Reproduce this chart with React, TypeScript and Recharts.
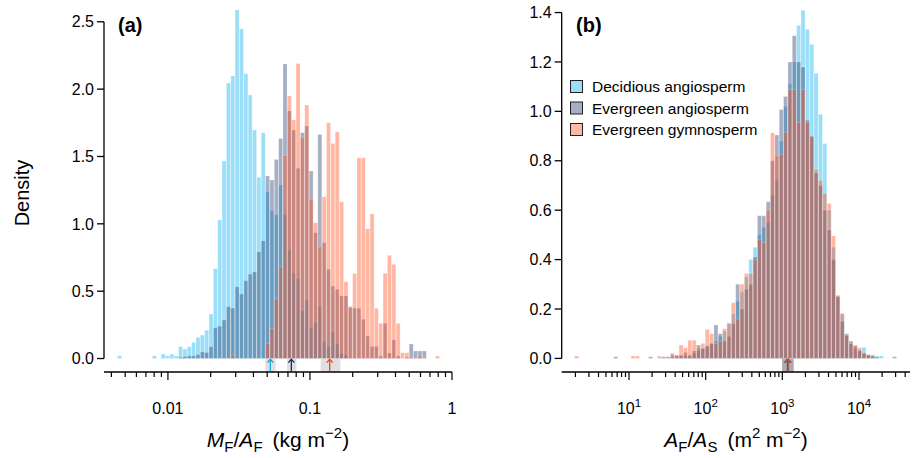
import React from 'react';
import {
  ComposedChart,
  Bar,
  XAxis,
  YAxis,
  ReferenceArea,
  ReferenceDot,
  ReferenceLine,
} from 'recharts';

const FONT = '"Liberation Sans", Arial, Helvetica, sans-serif';

const SERIES = ['Decidious angiosperm', 'Evergreen angiosperm', 'Evergreen gymnosperm'];
const KEYS = ['dec', 'eva', 'evg'];
const FILLS = ['#00b0f0', '#1f3468', '#ff4a1a'];
const ARROW_COLORS = ['#14a9e3', '#1d2d5c', '#f0461c'];

// panel (a): histogram bins on log10(MF/AF)
const A_BIN_START = -2.354;
const A_BIN_WIDTH = 0.03064;
const A_DEC = [
  0.02, 0, 0, 0, 0, 0, 0, 0, 0.02, 0, 0.033, 0.02, 0.033, 0.02, 0.088, 0.07, 0.088, 0.12, 0.157, 0.174,
  0.21, 0.33, 0.667, 1.03, 1.466, 2.045, 2.097, 2.587, 2.446, 2.115, 1.956, 1.696, 1.345, 1.677, 1.236, 1.097,
  1.065, 1.288, 1.066, 0.805, 0.632, 0.594, 0.355, 0.434, 0.229, 0.266, 0.385, 0.125, 0.088, 0.194, 0.108,
  0.038, 0.026, 0, 0, 0, 0, 0, 0, 0, 0, 0, 0, 0, 0, 0, 0, 0, 0, 0, 0, 0, 0, 0,
];
const A_EVA = [
  0, 0, 0, 0, 0, 0, 0, 0, 0, 0, 0, 0, 0, 0, 0.01, 0.015, 0.02, 0.02, 0.03, 0.05, 0.045, 0.088, 0.229, 0.241,
  0.286, 0.385, 0.375, 0.533, 0.479, 0.578, 0.627, 0.644, 0.793, 0.875, 1.355, 1.325, 1.477, 1.633, 2.186,
  1.837, 1.696, 1.412, 1.677, 1.726, 1.392, 0.934, 1.664, 0.86, 0.662, 0.538, 0.514, 0.464, 0.464, 0.385,
  0.373, 0.373, 0.291, 0.167, 0.088, 0.09, 0.02, 0.261, 0.04, 0.137, 0.02, 0, 0.01, 0.108, 0.056, 0.056,
  0.056, 0, 0, 0,
];
const A_EVG = [
  0, 0, 0, 0, 0, 0, 0, 0, 0, 0, 0, 0, 0, 0, 0, 0, 0, 0, 0, 0, 0, 0, 0, 0, 0, 0, 0.025, 0, 0, 0, 0, 0, 0, 0,
  0.113, 0.224, 0.442, 0.682, 1.508, 1.949, 1.771, 2.191, 1.64, 1.882, 1.182, 1.008, 0.83, 1.201, 1.751,
  1.597, 1.684, 1.164, 0.57, 0.377, 0.632, 1.491, 1.491, 0.964, 1.073, 0.373, 0.261, 0.632, 0.766, 0.699,
  0.261, 0.043, 0.043, 0.01, 0, 0.02, 0, 0, 0, 0.019,
];
const A_MEANS = [-1.279, -1.131, -0.861];
const A_CI = [[-1.314, -1.242], [-1.162, -1.096], [-0.925, -0.786]];
const A_DOMAIN = [-2.45, 0];
const A_YDOMAIN = [-0.1, 2.6];
const A_YTICKS = [0, 0.5, 1, 1.5, 2, 2.5];
const A_TICK_VALUES = [
  0.004, 0.005, 0.006, 0.007, 0.008, 0.009, 0.01, 0.02, 0.03, 0.04, 0.05, 0.06, 0.07, 0.08, 0.09, 0.1,
  0.2, 0.3, 0.4, 0.5, 0.6, 0.7, 0.8, 0.9, 1,
];
const A_MAJOR_VALUES = [0.01, 0.1, 1];
const A_MAJOR_LABELS = ['0.01', '0.1', '1'];

// panel (b): histogram bins on log10(AF/AS)
const B_BIN_START = 0.29;
const B_BIN_WIDTH = 0.0568;
const B_DEC = [
  0, 0, 0, 0, 0, 0, 0, 0, 0, 0, 0, 0, 0, 0, 0, 0, 0, 0, 0, 0, 0, 0, 0, 0.005, 0.01, 0.01, 0.015, 0.02, 0.03,
  0.04, 0.05, 0.06, 0.07, 0.09, 0.11, 0.14, 0.18, 0.23, 0.27, 0.33, 0.4, 0.45, 0.5, 0.53, 0.55, 0.66, 0.72,
  0.88, 1.02, 1.11, 1.2, 1.348, 1.409, 1.332, 1.271, 1.154, 0.988, 0.87, 0.6, 0.45, 0.25, 0.18, 0.09, 0.06,
  0.04, 0.035, 0.045, 0.015, 0.015, 0.01, 0.01, 0, 0, 0,
];
const B_EVA = [
  0, 0, 0, 0, 0, 0, 0, 0, 0, 0.007, 0, 0, 0, 0, 0, 0, 0, 0.007, 0, 0, 0.007, 0.007, 0.013, 0.013, 0.013,
  0.024, 0.011, 0.03, 0.054, 0.04, 0.05, 0.06, 0.135, 0.1, 0.07, 0.09, 0.14, 0.3, 0.2, 0.28, 0.3, 0.41,
  0.577, 0.577, 0.634, 0.8, 0.904, 1.008, 1.06, 1.2, 1.306, 1.2, 1.18, 0.964, 0.9, 0.75, 0.7, 0.6, 0.52, 0.4,
  0.25, 0.15, 0.1, 0.07, 0.05, 0.03, 0.02, 0.015, 0.01, 0.005, 0, 0, 0, 0.007,
];
const B_EVG = [
  0.01, 0, 0, 0, 0, 0, 0, 0, 0, 0, 0, 0, 0, 0.01, 0.01, 0, 0, 0, 0, 0.01, 0, 0, 0.022, 0.013, 0.054, 0.043,
  0.074, 0.074, 0.043, 0.06, 0.118, 0.1, 0.06, 0.07, 0.12, 0.143, 0.225, 0.16, 0.3, 0.344, 0.344, 0.4, 0.48,
  0.47, 0.6, 0.913, 0.82, 0.826, 0.914, 1.089, 1.089, 0.956, 1.089, 0.956, 0.898, 0.765, 0.72, 0.668, 0.627,
  0.495, 0.256, 0.182, 0.094, 0.06, 0.054, 0.043, 0.023, 0.013, 0.01, 0, 0, 0, 0, 0,
];
const B_MEANS = [3.08, 3.068, 3.074];
const B_CI = [[2.996, 3.148], [2.996, 3.148], [2.996, 3.148]];
const B_DOMAIN = [0.122, 4.665];
const B_YDOMAIN = [-0.055, 1.42];
const B_YTICKS = [0, 0.2, 0.4, 0.6, 0.8, 1, 1.2, 1.4];
const B_TICK_VALUES = [
  2, 3, 4, 5, 6, 7, 8, 9, 10, 20, 30, 40, 50, 60, 70, 80, 90, 100, 200, 300, 400, 500, 600, 700, 800, 900,
  1000, 2000, 3000, 4000, 5000, 6000, 7000, 8000, 9000, 10000, 20000, 30000, 40000,
];
const B_MAJOR_VALUES = [10, 100, 1000, 10000];
const B_MAJOR_EXP = ['1', '2', '3', '4'];

const buildRows = (start: number, width: number, dec: number[], eva: number[], evg: number[]) =>
  dec.map((d, i) => ({ x: start + (i + 0.5) * width, dec: d, eva: eva[i], evg: evg[i] }));

const rowsA = buildRows(A_BIN_START, A_BIN_WIDTH, A_DEC, A_EVA, A_EVG);
const rowsB = buildRows(B_BIN_START, B_BIN_WIDTH, B_DEC, B_EVA, B_EVG);

const isMajor = (v: number, majors: number[]) => majors.findIndex((m) => Math.abs(Math.log10(m) - v) < 1e-6);

const LogTickA = (props: any) => {
  const { x, y, payload } = props;
  const idx = isMajor(payload.value, A_MAJOR_VALUES);
  return (
    <g>
      <line x1={x} x2={x} y1={y} y2={y + (idx >= 0 ? 8 : 5)} stroke="#000" strokeWidth={1.2} />
      {idx >= 0 && (
        <text x={x} y={y + 42} textAnchor="middle" fontSize={16} fill="#000">
          {A_MAJOR_LABELS[idx]}
        </text>
      )}
    </g>
  );
};

const LogTickB = (props: any) => {
  const { x, y, payload } = props;
  const idx = isMajor(payload.value, B_MAJOR_VALUES);
  return (
    <g>
      <line x1={x} x2={x} y1={y} y2={y + (idx >= 0 ? 8 : 5)} stroke="#000" strokeWidth={1.2} />
      {idx >= 0 && (
        <text x={x} y={y + 42} textAnchor="middle" fontSize={16} fill="#000">
          <tspan>10</tspan>
          <tspan fontSize={11.5} dy={-7}>{B_MAJOR_EXP[idx]}</tspan>
        </text>
      )}
    </g>
  );
};

const Arrow = (props: any) => {
  const { cx, cy, color } = props;
  return (
    <g>
      <line x1={cx} x2={cx} y1={cy + 6} y2={cy - 5.5} stroke={color} strokeWidth={1.3} />
      <polyline
        points={`${cx - 3},${cy - 2.6} ${cx},${cy - 6} ${cx + 3},${cy - 2.6}`}
        fill="none"
        stroke={color}
        strokeWidth={1.3}
      />
    </g>
  );
};

interface PanelProps {
  rows: any[];
  domain: number[];
  yDomain: number[];
  yTicks: number[];
  tickValues: number[];
  tickRender: (p: any) => React.ReactElement;
  means: number[];
  ci: number[][];
  width: number;
  margin: { top: number; right: number; bottom: number; left: number };
}

const HistPanel: React.FC<PanelProps> = ({ rows, domain, yDomain, yTicks, tickValues, tickRender, means, ci, width, margin }) => {
  const arrowY = yDomain[0] / 2;
  return (
    <ComposedChart width={width} height={458} data={rows} margin={margin} barCategoryGap={0} barGap={0}>
      {KEYS.map((k, i) => (
        <XAxis
          key={k}
          xAxisId={k}
          type="number"
          dataKey="x"
          domain={domain}
          allowDataOverflow
          hide={i > 0}
          ticks={tickValues.map((v) => Math.log10(v))}
          interval={0}
          tickSize={0}
          tickMargin={0}
          tickLine={false}
          axisLine={{ stroke: '#000', strokeWidth: 1.3 }}
          tick={tickRender}
          height={86}
        />
      ))}
      <YAxis
        type="number"
        domain={yDomain}
        allowDataOverflow
        ticks={yTicks}
        width={60}
        axisLine={false}
        tickSize={7}
        tickMargin={3}
        tickLine={{ stroke: '#000', strokeWidth: 1.3 }}
        tick={{ fontSize: 16, fill: '#000' }}
        tickFormatter={(v: number) => v.toFixed(1)}
      />
      {KEYS.map((k, i) => (
        <Bar
          key={k}
          xAxisId={k}
          dataKey={k}
          name={SERIES[i]}
          fill={FILLS[i]}
          fillOpacity={0.4}
          stroke="#ffffff"
          strokeOpacity={0.45}
          strokeWidth={0.5}
          isAnimationActive={false}
        />
      ))}
      <ReferenceLine
        xAxisId="dec"
        segment={[
          { x: domain[0], y: 0 },
          { x: domain[0], y: yTicks[yTicks.length - 1] },
        ]}
        stroke="#000"
        strokeWidth={1.3}
      />
      {ci.map((c, i) => (
        <ReferenceArea
          key={`ci-${i}`}
          xAxisId="dec"
          x1={c[0]}
          x2={c[1]}
          y1={yDomain[0]}
          y2={0}
          fill="#000"
          fillOpacity={0.12}
          stroke="none"
        />
      ))}
      {means.map((m, i) => (
        <ReferenceDot
          key={`m-${i}`}
          xAxisId="dec"
          x={m}
          y={arrowY}
          r={0}
          shape={(p: any) => <Arrow {...p} color={ARROW_COLORS[i]} />}
        />
      ))}
    </ComposedChart>
  );
};

const sub = (t: string) => (
  <tspan fontSize={15} dy={4.5}>
    {t}
  </tspan>
);

const App: React.FC = () => {
  return (
    <div style={{ position: 'absolute', left: 0, top: 0, width: 917, height: 458, background: '#fff', fontFamily: FONT }}>
      <div style={{ position: 'absolute', left: 0, top: 0 }}>
        <HistPanel
          rows={rowsA}
          domain={A_DOMAIN}
          yDomain={A_YDOMAIN}
          yTicks={A_YTICKS}
          tickValues={A_TICK_VALUES}
          tickRender={LogTickA}
          means={A_MEANS}
          ci={A_CI}
          width={460}
          margin={{ top: 8.3, right: 8, bottom: 0, left: 44 }}
        />
      </div>
      <div style={{ position: 'absolute', left: 460, top: 0 }}>
        <HistPanel
          rows={rowsB}
          domain={B_DOMAIN}
          yDomain={B_YDOMAIN}
          yTicks={B_YTICKS}
          tickValues={B_TICK_VALUES}
          tickRender={LogTickB}
          means={B_MEANS}
          ci={B_CI}
          width={457}
          margin={{ top: 7.6, right: 7, bottom: 0, left: 41.7 }}
        />
      </div>
      <svg width={917} height={458} style={{ position: 'absolute', left: 0, top: 0, pointerEvents: 'none' }}>
        <text x={118} y={32} fontSize={20} fontWeight="bold" fill="#000">(a)</text>
        <text x={576} y={32} fontSize={20} fontWeight="bold" fill="#000">(b)</text>
        <text transform="rotate(-90)" x={-193} y={29} textAnchor="middle" fontSize={20} fill="#000">
          Density
        </text>
        <text x={278} y={447} textAnchor="middle" fontSize={21} fill="#000">
          <tspan fontStyle="italic">M</tspan>
          {sub('F')}
          <tspan dy={-4.5}>/</tspan>
          <tspan fontStyle="italic">A</tspan>
          {sub('F')}
          <tspan dy={-4.5} dx={10}>(kg m</tspan>
          <tspan fontSize={15} dy={-9}>−2</tspan>
          <tspan dy={9}>)</tspan>
        </text>
        <text x={736} y={447} textAnchor="middle" fontSize={21} fill="#000">
          <tspan fontStyle="italic">A</tspan>
          {sub('F')}
          <tspan dy={-4.5}>/</tspan>
          <tspan fontStyle="italic">A</tspan>
          {sub('S')}
          <tspan dy={-4.5} dx={10}>(m</tspan>
          <tspan fontSize={15} dy={-9}>2</tspan>
          <tspan dy={9}> m</tspan>
          <tspan fontSize={15} dy={-9}>−2</tspan>
          <tspan dy={9}>)</tspan>
        </text>
        {SERIES.map((s, i) => (
          <g key={s}>
            <rect x={570.5} y={80.5 + i * 21.5} width={12} height={12} fill="#fff" stroke="none" />
            <rect x={570.5} y={80.5 + i * 21.5} width={12} height={12} fill={FILLS[i]} fillOpacity={0.4} stroke="#222" strokeWidth={1} />
            <text x={592} y={92 + i * 21.5} fontSize={15.5} fill="#000">
              {s}
            </text>
          </g>
        ))}
      </svg>
    </div>
  );
};

export default App;
